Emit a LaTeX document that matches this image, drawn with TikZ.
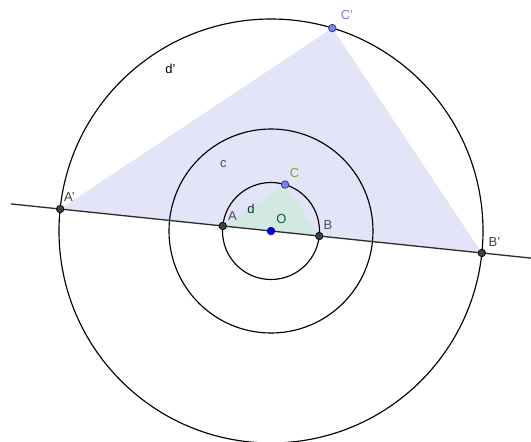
\documentclass[tikz,border=0pt]{standalone}
\usepackage{fontspec}
\setmainfont{Liberation Sans}
\usetikzlibrary{positioning}
\definecolor{ptgrey}{RGB}{64,64,64}
\definecolor{ptblue}{RGB}{0,0,255}
\definecolor{ptlilac}{RGB}{125,125,255}
\definecolor{bigfill}{RGB}{228,228,248}
\definecolor{smallfill}{RGB}{210,233,226}
\definecolor{lblgrey}{RGB}{70,72,100}
\definecolor{lblteal}{RGB}{20,90,70}
\definecolor{lblolive}{RGB}{150,160,50}
\definecolor{lbllilac}{RGB}{120,120,240}

\tikzset{
  pt/.style={circle, draw=black, line width=0.4pt, inner sep=0pt, minimum size=4.3pt},
  lbl/.style={font=\fontsize{7.4}{9}\selectfont, inner sep=0pt},
  circ/.style={draw=black, line width=0.65pt}
}

\begin{document}
\begin{tikzpicture}
        \useasboundingbox (-5.42,-4.2) rectangle (5.2,4.62);
        \clip (-5.42,-4.2) rectangle (5.2,4.62);
        % points of the figure
        \coordinate (O) at (0,0);
        \coordinate (A) at (174.05:0.97);
        \coordinate (B) at (-5.95:0.97);
        \coordinate (C) at (73.2:0.97);
        \coordinate (A') at (174.05:4.24);
        \coordinate (B') at (-5.95:4.24);
        \coordinate (C') at (73.2:4.24);
        \coordinate (lineL) at (174.05:5.23);
        \coordinate (lineR) at (-5.95:5.5);
        % triangles d' and d
        \fill[bigfill] (A') -- (C') -- (B') -- cycle;
        \fill[smallfill] (A) -- (C) -- (B) -- cycle;
        % circles
        \draw[circ] (O) circle (0.97);
        \draw[circ] (O) circle (2.04);
        \draw[circ] (O) circle (4.24);
        % line through A' and B'
        \draw[ptgrey!70!black, line width=0.75pt] (lineL) -- (lineR);
        % points
        \node[pt, fill=ptgrey] (pA) at (A) {};
        \node[pt, fill=ptgrey] (pB) at (B) {};
        \node[pt, fill=ptgrey] (pA') at (A') {};
        \node[pt, fill=ptgrey] (pB') at (B') {};
        \node[pt, fill=ptblue, draw=ptblue!60!black] (pO) at (O) {};
        \node[pt, fill=ptlilac, draw=ptlilac!40!black] (pC) at (C) {};
        \node[pt, fill=ptlilac, draw=ptlilac!40!black] (pC') at (C') {};
        % labels
        \node[lbl, lblgrey] (tA) at (-0.77,0.30) {A};
        \node[lbl, lblgrey] (tB) at (1.14,0.12) {B};
        \node[lbl, lblteal] (tO) at (0.21,0.23) {O};
        \node[lbl, lblolive] (tC) at (0.47,1.15) {C};
        \node[lbl, lblteal!60!black] (td) at (-0.40,0.44) {d};
        \node[lbl, lblgrey] (tc) at (-0.95,1.34) {c};
        \node[lbl, black] (tdd) at (-2.01,3.25) {d'};
        \node[lbl, ptgrey] (tA') at (-4.03,0.67) {A'};
        \node[lbl, ptgrey] (tB') at (4.47,-0.23) {B'};
        \node[lbl, lbllilac] (tC') at (1.52,4.32) {C'};
      \end{tikzpicture}
\end{document}
